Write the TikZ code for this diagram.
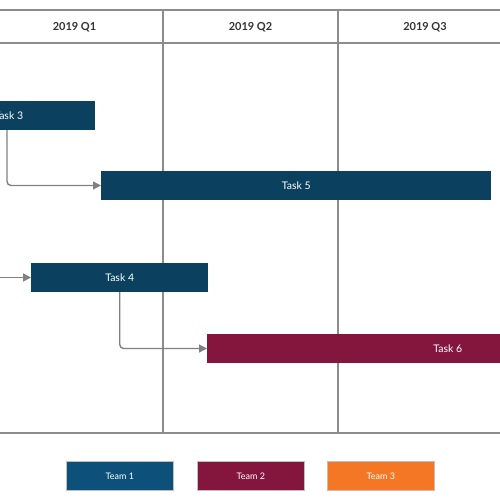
\documentclass[tikz,border=0pt]{standalone}
\usepackage{fontspec}
\setmainfont{Lato}
\usetikzlibrary{arrows.meta}
\definecolor{gridgray}{HTML}{8C8C8C}
\definecolor{arrowgray}{HTML}{808080}
\definecolor{taskblue}{HTML}{0B405F}
\definecolor{teamblue}{HTML}{0D5079}
\definecolor{teamred}{HTML}{84163D}
\definecolor{teamorange}{HTML}{F47725}
\tikzset{
  gridline/.style={draw=gridgray, line width=1.4pt},
  bar/.style={anchor=west, minimum height=29pt, inner sep=0pt, text=white, font=\fontsize{10.5}{12}\selectfont},
  legendbox/.style={anchor=north west, minimum width=107pt, minimum height=29pt, inner sep=0pt, text=white, draw=gray!50, line width=0.6pt, font=\fontsize{9}{11}\selectfont},
  header/.style={font=\bfseries\fontsize{11}{13}\selectfont, text=black!80},
  conn/.style={draw=arrowgray, line width=1.4pt, rounded corners=4pt, -{Triangle[length=8pt,width=8pt]}}
}
\begin{document}
\begin{tikzpicture}[x=1pt,y=-1pt]
\useasboundingbox (0,0) rectangle (500,500);
% grid
\draw[gridline] (0,10) -- (500,10);
\draw[gridline] (0,43) -- (500,43);
\draw[gridline] (0,433) -- (500,433);
\draw[gridline] (163,10) -- (163,433);
\draw[gridline] (338,10) -- (338,433);
% headers
\node[header] (q1) at (74.5,27) {2019 Q1};
\node[header] (q2) at (250.5,27) {2019 Q2};
\node[header] (q3) at (425,27) {2019 Q3};
% bars
\node[bar, fill=taskblue, minimum width=173pt] (t3) at (-78,115.5) {Task 3};
\node[bar, fill=taskblue, minimum width=390pt] (t5) at (101,185.5) {Task 5};
\node[bar, fill=taskblue, minimum width=177pt] (t4) at (31,277.5) {Task 4};
\node[bar, fill=teamred, minimum width=481pt] (t6) at (207,348.5) {Task 6};
% connectors
\coordinate (in4) at (-2,277.5);
\draw[conn] (7,130) |- (t5.west);
\draw[conn] (in4) -- (t4.west);
\draw[conn] (t4.south) |- (t6.west);
% legend
\node[legendbox, fill=teamblue] (team1) at (66,461) {Team 1};
\node[legendbox, fill=teamred] (team2) at (197,461) {Team 2};
\node[legendbox, fill=teamorange] (team3) at (327,461) {Team 3};
\end{tikzpicture}
\end{document}
